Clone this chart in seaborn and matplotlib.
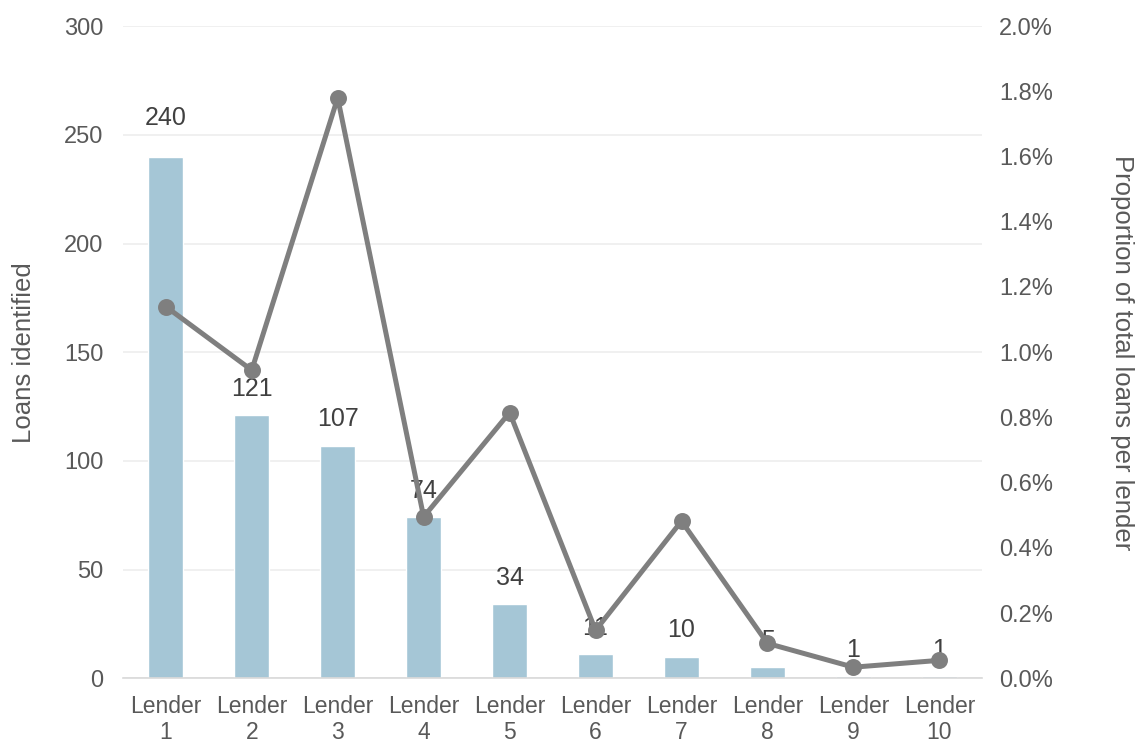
import matplotlib
matplotlib.use("Agg")
import matplotlib.pyplot as plt
import seaborn as sns
import pandas as pd
from matplotlib.ticker import PercentFormatter, MultipleLocator

lenders = ["Lender\n1", "Lender\n2", "Lender\n3", "Lender\n4", "Lender\n5",
           "Lender\n6", "Lender\n7", "Lender\n8", "Lender\n9", "Lender\n10"]
loans_identified = [240, 121, 107, 74, 34, 11, 10, 5, 1, 1]
share_of_loans = [1.14, 0.945, 1.78, 0.495, 0.815, 0.147, 0.482, 0.107, 0.034, 0.055]

df = pd.DataFrame({"lender": lenders, "loans": loans_identified, "share": share_of_loans})

sns.set_theme(style="white")
plt.rcParams["font.family"] = ["Liberation Sans", "DejaVu Sans"]

BAR = "#A5C6D6"
LINE = "#7F7F7F"
TICK = "#595959"
LABEL = "#404040"

fig = plt.figure(figsize=(11.37, 7.47), dpi=100)
ax = fig.add_axes([0.108, 0.092, 0.756, 0.873])

sns.barplot(data=df, x="lender", y="loans", color=BAR, saturation=1,
            width=0.41, ax=ax, zorder=2)
ax.set_ylim(0, 300)
ax.yaxis.set_major_locator(MultipleLocator(50))
ax.grid(axis="y", color="#EFEFEF", linewidth=1.3, zorder=0)
ax.set_axisbelow(True)
for s in ["top", "right", "left"]:
    ax.spines[s].set_visible(False)
ax.spines["bottom"].set_color("#D9D9D9")
ax.spines["bottom"].set_linewidth(1.2)
ax.tick_params(axis="y", length=0, pad=14, labelsize=17, labelcolor=TICK)
ax.tick_params(axis="x", length=0, pad=12, labelsize=16.5, labelcolor=TICK)
for t in ax.get_xticklabels():
    t.set_linespacing(1.15)
ax.set_xlabel("")
ax.set_ylabel("Loans identified", fontsize=18.5, color=TICK, labelpad=20)
ax.set_xlim(-0.5, len(lenders) - 0.5)

# value labels above the bars; the tallest bar's label sits a little higher
for i, v in enumerate(loans_identified):
    off = 28 if v == max(loans_identified) else 19
    ax.annotate(f"{v}", (i, v), xytext=(0, off), textcoords="offset points",
                ha="center", va="center", fontsize=18, color=LABEL, zorder=5)

ax2 = ax.twinx()
sns.pointplot(data=df, x="lender", y="share", color=LINE, errorbar=None,
              markers="o", markersize=9.5, linewidth=3.6, ax=ax2)
ax2.set_ylim(0, 2.0)
ax2.yaxis.set_major_locator(MultipleLocator(0.2))
ax2.yaxis.set_major_formatter(PercentFormatter(decimals=1))
ax2.set_xlim(-0.5, len(lenders) - 0.5)
for s in ["top", "right", "left", "bottom"]:
    ax2.spines[s].set_visible(False)
ax2.grid(False)
ax2.tick_params(axis="y", length=0, pad=12, labelsize=17, labelcolor=TICK)
ax2.set_ylabel("Proportion of total loans per lender", fontsize=18.5, color=TICK,
               rotation=270, labelpad=58)
ax2.set_xlabel("")

fig.savefig("out.png", dpi=100)
